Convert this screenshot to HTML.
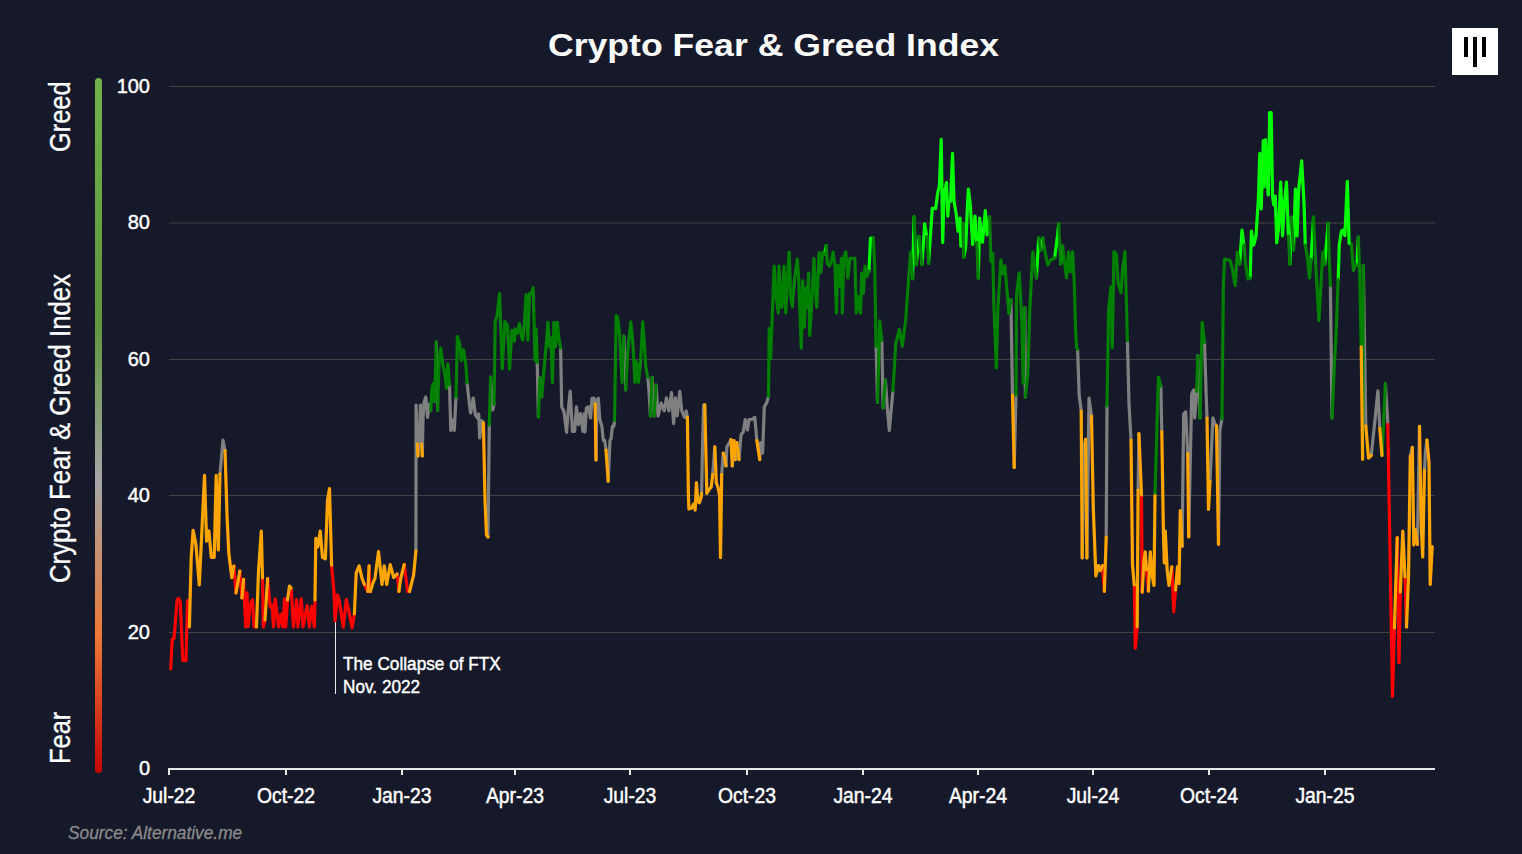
<!DOCTYPE html>
<html><head><meta charset="utf-8">
<style>
html,body{margin:0;padding:0;}
body{width:1522px;height:854px;background:#16192a;overflow:hidden;position:relative;font-family:"Liberation Sans",sans-serif;color:#fff;}
.abs{position:absolute;white-space:nowrap;}
.yl{right:1372px;font-size:20px;line-height:20px;text-align:right;-webkit-text-stroke:0.45px #fff;transform-origin:100% 50%;transform:scaleX(1.0);}
.xl{top:783.5px;font-size:22.5px;line-height:24px;-webkit-text-stroke:0.5px #fff;transform:translateX(-50%) scaleX(0.86);}
.rot{left:45px;font-size:30px;line-height:30px;-webkit-text-stroke:0.35px #fff;transform-origin:0 0;transform:rotate(-90deg) scaleX(0.847);}
</style></head><body>
<svg class="abs" style="left:0;top:0" width="1522" height="854" viewBox="0 0 1522 854">
<defs>
<linearGradient id="gb" x1="0" y1="0" x2="0" y2="1">
<stop offset="0" stop-color="#72b24a"/>
<stop offset="0.35" stop-color="#5e963c"/>
<stop offset="0.58" stop-color="#a6a6a6"/>
<stop offset="0.8" stop-color="#ec7a38"/>
<stop offset="1" stop-color="#c40606"/>
</linearGradient>
</defs>
<g stroke="#434343" stroke-width="1">
<line x1="169" y1="86.5" x2="1435" y2="86.5"/>
<line x1="169" y1="223" x2="1435" y2="223"/>
<line x1="169" y1="359.5" x2="1435" y2="359.5"/>
<line x1="169" y1="495.5" x2="1435" y2="495.5"/>
<line x1="169" y1="632.5" x2="1435" y2="632.5"/>
</g>
<rect x="95" y="78" width="7" height="695" rx="3.5" fill="url(#gb)"/>
<g fill="#e8e8e8">
<rect x="168" y="768" width="1267" height="2"/>
<rect x="168" y="768" width="2" height="7"/>
<rect x="285" y="768" width="2" height="7"/>
<rect x="401" y="768" width="2" height="7"/>
<rect x="514" y="768" width="2" height="7"/>
<rect x="629" y="768" width="2" height="7"/>
<rect x="746" y="768" width="2" height="7"/>
<rect x="862" y="768" width="2" height="7"/>
<rect x="977" y="768" width="2" height="7"/>
<rect x="1092" y="768" width="2" height="7"/>
<rect x="1208" y="768" width="2" height="7"/>
<rect x="1324" y="768" width="2" height="7"/>
</g>
<rect x="139" y="782" width="1221" height="1" fill="#121320"/>
<line x1="335.5" y1="622" x2="335.5" y2="694" stroke="#e8e8e8" stroke-width="1"/>
<rect x="1452" y="28" width="46" height="47" fill="#fff"/>
<g fill="#000"><rect x="1464" y="37" width="4" height="20"/><rect x="1473" y="37" width="4" height="30"/><rect x="1482" y="37" width="4" height="20"/></g>
<g id="line" fill="none" stroke-width="3.2" stroke-linejoin="round" stroke-linecap="round"><path stroke="#808080" d="M220.0,473.9 L223.0,440.2 L225.0,450.5"/>
<path stroke="#808080" d="M415.9,551.1 L416.1,405.0 L417.3,444.0"/>
<path stroke="#808080" d="M418.0,456.0 L419.5,430.0 L420.5,405.0 L421.5,444.0"/>
<path stroke="#808080" d="M422.3,456.0 L423.0,420.0 L424.0,402.4 L425.8,397.0 L427.6,417.3 L429.3,404.2 L430.7,410.3"/>
<path stroke="#808080" d="M433.2,384.0 L434.6,401.5"/>
<path stroke="#808080" d="M436.3,341.8 L437.6,410.3"/>
<path stroke="#808080" d="M449.5,384.9 L450.8,430.5 L452.5,420.0 L454.3,430.5 L456.0,397.1"/>
<path stroke="#808080" d="M467.1,383.0 L468.8,398.9 L470.6,413.0 L473.2,398.0 L475.3,414.7 L477.6,418.2 L478.7,414.0 L479.7,438.0 L481.9,420.7 L483.4,422.8"/>
<path stroke="#808080" d="M488.0,537.0 L489.3,425.0"/>
<path stroke="#808080" d="M490.6,377.0 L492.7,410.0 L494.0,404.2"/>
<path stroke="#808080" d="M537.2,362.3 L538.4,416.8"/>
<path stroke="#808080" d="M539.9,377.9 L541.7,396.8"/>
<path stroke="#808080" d="M560.6,347.9 L561.7,406.8 L563.9,411.3 L566.6,432.4 L568.4,409.0 L570.2,391.2 L572.4,431.3 L574.6,431.3 L576.4,406.8 L578.4,424.6 L580.6,413.5 L582.9,431.3 L584.4,413.5 L585.0,432.0 L586.4,408.0 L588.5,406.7 L590.6,418.0 L592.0,398.3 L594.1,398.3 L595.1,404.0"/>
<path stroke="#808080" d="M596.0,460.0 L597.0,401.0 L598.3,398.3 L599.8,419.3 L601.9,426.4 L603.3,440.4 L604.7,440.4 L606.0,450.0"/>
<path stroke="#808080" d="M608.2,481.2 L610.0,440.4 L611.0,439.0 L612.4,426.4 L613.8,426.4 L614.5,420.7"/>
<path stroke="#808080" d="M623.9,336.0 L625.7,390.0"/>
<path stroke="#808080" d="M647.8,377.3 L648.9,390.0 L650.4,416.0"/>
<path stroke="#808080" d="M652.2,377.3 L654.1,416.0"/>
<path stroke="#808080" d="M656.1,385.0 L658.1,416.0 L661.2,403.0 L664.3,410.8 L666.4,397.9 L668.9,410.8 L671.5,392.7 L673.6,423.6 L675.4,397.9 L677.2,415.9 L679.8,391.4 L681.8,410.8 L684.6,417.4 L686.3,411.0 L687.4,417.4"/>
<path stroke="#808080" d="M701.6,493.3 L702.6,442.7 L703.6,404.8 L704.8,404.8"/>
<path stroke="#808080" d="M712.7,474.3 L714.8,446.9"/>
<path stroke="#808080" d="M721.7,474.3 L723.2,453.2"/>
<path stroke="#808080" d="M726.0,465.9 L726.8,446.9 L729.5,442.7 L731.0,439.5"/>
<path stroke="#808080" d="M732.3,465.9 L734.0,440.6"/>
<path stroke="#808080" d="M735.2,459.6 L736.9,442.7"/>
<path stroke="#808080" d="M739.0,459.6 L741.1,434.3 L743.2,432.2 L745.3,419.5 L747.4,430.0 L749.1,419.5 L751.7,419.5 L754.8,417.4 L756.9,440.6"/>
<path stroke="#808080" d="M759.7,459.6 L760.5,442.7 L762.6,453.2 L764.3,406.9 L766.8,402.6 L768.5,396.3"/>
<path stroke="#808080" d="M876.1,346.2 L877.5,402.4"/>
<path stroke="#808080" d="M881.8,340.5 L883.1,408.0"/>
<path stroke="#808080" d="M885.4,380.0 L887.3,408.0 L889.3,430.5 L892.9,391.0"/>
<path stroke="#808080" d="M1010.9,299.7 L1012.5,395.0"/>
<path stroke="#808080" d="M1014.2,467.5 L1016.0,395.0"/>
<path stroke="#808080" d="M1024.8,307.6 L1025.4,397.0"/>
<path stroke="#808080" d="M1077.6,349.4 L1079.2,395.5 L1081.2,411.0"/>
<path stroke="#808080" d="M1082.2,557.8 L1084.3,444.4 L1085.6,439.3"/>
<path stroke="#808080" d="M1086.9,557.8 L1089.0,398.0 L1091.5,416.0"/>
<path stroke="#808080" d="M1106.2,537.2 L1107.0,405.8"/>
<path stroke="#808080" d="M1127.4,340.7 L1129.0,403.8 L1131.0,440.0"/>
<path stroke="#808080" d="M1138.1,490.0 L1138.9,433.7"/>
<path stroke="#808080" d="M1160.8,386.0 L1161.8,431.7"/>
<path stroke="#808080" d="M1182.1,546.2 L1183.7,413.8 L1185.7,411.8 L1187.7,453.6"/>
<path stroke="#808080" d="M1188.7,536.8 L1191.7,393.9 L1193.7,389.9 L1194.7,417.8 L1196.7,391.3"/>
<path stroke="#808080" d="M1197.8,355.7 L1200.0,418.0"/>
<path stroke="#808080" d="M1204.5,342.3 L1206.0,390.0 L1207.0,418.0"/>
<path stroke="#808080" d="M1210.0,481.6 L1212.9,417.9 L1214.9,423.8 L1216.5,425.8"/>
<path stroke="#808080" d="M1218.5,544.3 L1219.9,429.8 L1221.9,418.9"/>
<path stroke="#808080" d="M1330.4,285.7 L1332.0,418.1"/>
<path stroke="#808080" d="M1363.3,265.6 L1365.8,425.8"/>
<path stroke="#808080" d="M1371.2,455.5 L1375.2,417.8 L1377.9,390.8 L1379.8,428.5"/>
<path stroke="#808080" d="M1385.4,383.6 L1387.8,424.4"/>
<path stroke="#808080" d="M1410.3,456.0 L1412.3,447.4"/>
<path stroke="#808080" d="M1417.4,544.4 L1419.5,426.3"/>
<path stroke="#808080" d="M1424.5,470.0 L1425.5,452.0 L1426.9,440.0"/>
<path stroke="#00ff00" d="M824.7,254.0 L826.1,245.6"/>
<path stroke="#00ff00" d="M869.0,271.0 L870.5,238.0 L873.3,238.0"/>
<path stroke="#00ff00" d="M912.6,278.7 L914.0,216.9"/>
<path stroke="#00ff00" d="M916.3,264.6 L919.1,236.5"/>
<path stroke="#00ff00" d="M922.0,264.6 L924.7,223.9 L926.7,236.5"/>
<path stroke="#00ff00" d="M928.6,263.2 L932.3,208.4 L935.6,208.7 L937.9,191.8 L939.4,186.0 L941.2,139.4 L942.7,242.4 L944.0,195.6 L946.5,182.5 L947.8,216.2 L949.1,201.2 L950.6,201.2 L952.5,153.4 L954.0,201.2 L956.2,214.3 L958.1,231.2 L960.0,218.0 L960.9,246.2 L962.8,223.7"/>
<path stroke="#00ff00" d="M963.7,257.4 L965.6,248.0 L967.5,205.0 L968.4,189.0 L970.3,205.0 L972.7,244.3 L975.0,216.2 L976.8,242.4"/>
<path stroke="#00ff00" d="M978.3,278.0 L979.6,218.0 L981.0,229.3 L982.5,242.4 L985.3,210.6 L987.1,234.9 L989.6,217.1"/>
<path stroke="#00ff00" d="M1036.4,277.8 L1038.7,238.0"/>
<path stroke="#00ff00" d="M1040.7,250.0 L1042.7,238.0"/>
<path stroke="#00ff00" d="M1054.7,257.9 L1057.5,236.0 L1058.7,224.0"/>
<path stroke="#00ff00" d="M1060.6,263.8 L1062.6,246.0"/>
<path stroke="#00ff00" d="M1239.7,264.0 L1242.0,230.0 L1243.9,245.2"/>
<path stroke="#00ff00" d="M1250.2,278.0 L1251.4,231.1 L1253.7,245.2 L1256.0,236.0 L1258.4,198.4 L1259.8,153.4 L1261.2,208.9 L1263.3,140.7 L1264.2,187.0 L1265.5,139.5 L1267.0,180.0 L1268.3,195.0 L1269.7,112.6 L1271.2,112.6 L1272.5,195.5 L1273.8,205.0 L1275.3,196.0 L1276.7,242.9 L1278.5,229.0 L1280.7,182.0 L1282.5,235.8 L1284.3,205.0 L1286.5,182.0 L1288.4,235.8"/>
<path stroke="#00ff00" d="M1290.0,264.0 L1291.2,217.1"/>
<path stroke="#00ff00" d="M1293.5,249.9 L1295.4,189.0 L1297.1,235.8 L1298.7,189.0 L1301.7,160.9 L1304.1,205.4 L1305.3,245.2"/>
<path stroke="#00ff00" d="M1311.1,259.3 L1313.5,217.1"/>
<path stroke="#00ff00" d="M1324.8,264.4 L1328.1,223.3"/>
<path stroke="#00ff00" d="M1338.2,279.6 L1339.3,244.6 L1341.5,230.9 L1343.0,230.0 L1344.9,235.5 L1347.3,181.4 L1349.1,243.1 L1351.4,244.6"/>
<path stroke="#00ff00" d="M1357.0,265.3 L1358.3,237.0"/>
<path stroke="#008000" d="M430.7,410.3 L432.0,388.4 L433.2,384.0"/>
<path stroke="#008000" d="M434.6,401.5 L436.3,341.8"/>
<path stroke="#008000" d="M437.6,410.3 L439.0,362.0 L440.7,348.0 L442.8,363.8 L445.1,376.0 L446.5,388.4 L447.8,363.8 L449.5,384.9"/>
<path stroke="#008000" d="M456.0,397.1 L457.4,336.5 L459.5,342.7 L461.3,360.3 L463.6,349.7 L465.9,365.5 L467.1,383.0"/>
<path stroke="#008000" d="M489.3,425.0 L490.6,377.0"/>
<path stroke="#008000" d="M494.0,404.2 L495.2,321.6 L497.0,316.3 L499.6,293.5 L502.2,369.0 L504.9,321.6 L507.5,325.1 L509.6,369.0 L511.9,330.4 L514.5,341.0 L515.0,328.9 L517.2,333.4 L519.4,323.4 L521.2,335.6 L522.8,340.1 L524.3,324.5 L526.1,294.5 L527.9,340.1 L529.5,293.3 L531.7,293.3 L533.2,287.8 L535.0,360.1 L536.1,328.9 L537.2,362.3"/>
<path stroke="#008000" d="M538.4,416.8 L539.9,377.9"/>
<path stroke="#008000" d="M541.7,396.8 L543.5,375.7 L546.1,346.7 L547.9,322.3 L549.5,346.7 L551.0,337.8 L552.4,382.3 L553.9,322.3 L555.5,346.7 L557.3,322.3 L558.8,337.8 L560.6,347.9"/>
<path stroke="#008000" d="M614.5,420.7 L616.2,315.6 L617.8,317.8 L619.6,335.6 L622.1,382.4 L623.9,336.0"/>
<path stroke="#008000" d="M625.7,390.0 L627.7,351.5 L630.8,321.9 L632.9,343.8 L634.9,382.4 L636.7,361.8 L638.5,382.4 L640.6,361.8 L642.7,321.9 L644.5,346.4 L645.8,367.0 L647.8,377.3"/>
<path stroke="#008000" d="M650.4,416.0 L652.2,377.3"/>
<path stroke="#008000" d="M654.1,416.0 L656.1,385.0"/>
<path stroke="#008000" d="M768.5,396.3 L769.2,328.5 L770.6,359.0 L774.1,266.0 L776.2,296.2 L778.3,313.0 L779.0,266.0 L780.5,296.2 L781.9,307.4 L784.0,266.0 L785.8,313.0 L787.2,282.2 L789.2,252.0 L790.6,296.2 L792.4,306.7 L794.5,279.3 L797.3,259.0 L798.7,279.3 L801.3,348.2 L802.7,280.7 L804.3,327.1 L805.7,287.8 L807.2,307.4 L808.6,273.0 L809.7,335.5 L812.1,297.6 L813.9,258.3 L815.3,287.8 L816.7,307.4 L818.4,268.1 L819.1,252.6 L820.9,272.3 L822.6,252.6 L824.7,254.0"/>
<path stroke="#008000" d="M826.1,245.6 L827.5,263.9 L829.6,266.0 L831.7,259.7 L833.1,252.0 L835.0,266.7 L836.4,313.0 L837.8,265.3 L839.5,286.4 L841.6,258.3 L842.3,313.0 L843.7,258.3 L845.8,252.0 L847.9,278.0 L850.0,258.3 L852.8,258.3 L854.9,258.3 L856.3,313.0 L857.7,296.2 L860.5,313.0 L861.7,273.0 L863.4,293.4 L865.0,266.0 L866.9,276.5 L869.0,271.0"/>
<path stroke="#008000" d="M873.3,238.0 L874.7,267.0 L876.1,346.2"/>
<path stroke="#008000" d="M877.5,402.4 L879.7,320.9 L881.8,340.5"/>
<path stroke="#008000" d="M883.1,408.0 L885.4,380.0"/>
<path stroke="#008000" d="M892.9,391.0 L895.8,343.3 L899.4,329.3 L902.2,346.2 L905.6,321.0 L908.4,281.5 L910.6,252.0 L912.6,278.7"/>
<path stroke="#008000" d="M914.0,216.9 L916.3,264.6"/>
<path stroke="#008000" d="M919.1,236.5 L922.0,264.6"/>
<path stroke="#008000" d="M926.7,236.5 L928.6,263.2"/>
<path stroke="#008000" d="M962.8,223.7 L963.7,257.4"/>
<path stroke="#008000" d="M976.8,242.4 L978.3,278.0"/>
<path stroke="#008000" d="M989.6,217.1 L990.9,261.1 L992.8,253.7 L994.0,309.6 L996.4,368.0 L997.9,307.6 L1000.9,259.9 L1002.9,273.8 L1004.9,265.8 L1006.9,290.0 L1008.9,313.6 L1010.9,299.7"/>
<path stroke="#008000" d="M1016.0,395.0 L1016.5,295.7 L1019.2,272.8 L1021.8,319.6 L1023.2,383.3 L1024.8,307.6"/>
<path stroke="#008000" d="M1025.4,397.0 L1027.8,373.3 L1029.8,309.6 L1032.8,251.9 L1036.4,277.8"/>
<path stroke="#008000" d="M1038.7,238.0 L1040.7,250.0"/>
<path stroke="#008000" d="M1042.7,238.0 L1044.7,250.0 L1047.7,264.8 L1050.7,260.0 L1054.7,257.9"/>
<path stroke="#008000" d="M1058.7,224.0 L1060.6,263.8"/>
<path stroke="#008000" d="M1062.6,246.0 L1064.2,260.0 L1066.6,277.8 L1068.6,251.9 L1070.6,271.8 L1072.6,251.9 L1074.2,282.0 L1075.6,329.5 L1076.6,347.5 L1077.6,349.4"/>
<path stroke="#008000" d="M1107.0,405.8 L1108.6,310.0 L1111.0,286.8 L1112.2,347.7 L1114.0,251.7 L1116.3,254.0 L1118.0,282.2 L1121.0,292.7 L1122.7,268.0 L1125.0,251.7 L1127.4,340.7"/>
<path stroke="#008000" d="M1155.0,495.6 L1158.4,377.0 L1160.8,386.0"/>
<path stroke="#008000" d="M1196.7,391.3 L1197.8,355.7"/>
<path stroke="#008000" d="M1200.0,418.0 L1202.2,322.3 L1204.5,342.3"/>
<path stroke="#008000" d="M1221.9,418.9 L1223.4,284.5 L1224.5,259.0 L1227.5,260.0 L1230.0,260.0 L1232.5,270.0 L1235.2,285.6 L1237.3,252.2 L1239.7,264.0"/>
<path stroke="#008000" d="M1243.9,245.2 L1245.5,264.0 L1247.9,279.2 L1250.2,278.0"/>
<path stroke="#008000" d="M1288.4,235.8 L1290.0,264.0"/>
<path stroke="#008000" d="M1291.2,217.1 L1293.5,249.9"/>
<path stroke="#008000" d="M1305.3,245.2 L1307.6,259.3 L1309.5,278.0 L1311.1,259.3"/>
<path stroke="#008000" d="M1313.5,217.1 L1315.7,264.4 L1318.9,320.7 L1322.8,252.2 L1324.8,264.4"/>
<path stroke="#008000" d="M1328.1,223.3 L1329.4,261.3 L1330.4,285.7"/>
<path stroke="#008000" d="M1332.0,418.1 L1334.0,372.0 L1335.9,337.4 L1338.2,279.6"/>
<path stroke="#008000" d="M1351.4,244.6 L1353.4,270.5 L1356.0,264.4 L1357.0,265.3"/>
<path stroke="#008000" d="M1358.3,237.0 L1359.8,276.6 L1361.2,346.8"/>
<path stroke="#008000" d="M1362.6,459.2 L1363.3,265.6"/>
<path stroke="#008000" d="M1382.0,455.5 L1385.4,383.6"/>
<path stroke="#ff0000" d="M170.7,669.0 L172.2,639.0 L174.0,638.5 L177.2,599.5 L178.8,598.5 L180.3,602.0 L182.8,660.5 L186.0,660.5 L187.5,600.6 L189.4,626.8"/>
<path stroke="#ff0000" d="M233.9,566.0 L236.0,592.9"/>
<path stroke="#ff0000" d="M239.8,571.0 L241.9,598.0"/>
<path stroke="#ff0000" d="M243.6,579.4 L245.7,627.0 L247.0,592.9 L248.2,626.6 L250.0,605.0 L252.5,599.6 L254.1,627.0 L256.5,627.0"/>
<path stroke="#ff0000" d="M262.5,578.0 L263.4,627.0 L265.0,620.0"/>
<path stroke="#ff0000" d="M267.6,578.5 L270.2,607.2 L272.0,605.0 L273.5,627.0 L275.2,598.8 L278.6,627.0 L281.0,614.0 L283.0,627.0 L284.5,598.8 L285.7,627.0 L287.5,600.0"/>
<path stroke="#ff0000" d="M291.2,588.0 L293.5,627.0 L296.6,599.6 L297.9,627.0 L301.3,598.8 L303.0,627.0 L307.2,605.5 L309.3,627.0 L311.8,606.4 L314.4,627.0 L315.0,600.0"/>
<path stroke="#ff0000" d="M331.6,565.2 L334.0,592.7 L335.1,620.8 L337.5,595.0 L339.2,599.7 L341.0,612.0 L343.3,627.2 L346.3,599.7 L349.2,612.6 L352.1,627.8 L354.4,613.8"/>
<path stroke="#ff0000" d="M364.4,584.5 L367.9,591.5"/>
<path stroke="#ff0000" d="M369.1,565.8 L370.3,591.5"/>
<path stroke="#ff0000" d="M397.2,574.0 L398.9,591.5"/>
<path stroke="#ff0000" d="M404.2,564.6 L407.7,591.5 L409.5,591.5"/>
<path stroke="#ff0000" d="M1102.4,565.6 L1104.4,591.3"/>
<path stroke="#ff0000" d="M1134.3,585.0 L1135.3,648.3 L1137.2,626.8"/>
<path stroke="#ff0000" d="M1141.5,495.0 L1142.2,592.1"/>
<path stroke="#ff0000" d="M1146.5,570.0 L1148.4,591.2"/>
<path stroke="#ff0000" d="M1171.8,566.8 L1173.7,611.8 L1175.5,590.0"/>
<path stroke="#ff0000" d="M1387.8,424.4 L1392.5,696.4 L1394.4,628.0"/>
<path stroke="#ff0000" d="M1397.2,537.7 L1399.0,662.7 L1400.3,592.0"/>
<path stroke="#ff0000" d="M1405.0,577.0 L1406.5,627.0"/>
<path stroke="#ffa500" d="M189.4,626.8 L191.2,557.5 L193.1,530.3 L195.9,544.4 L199.3,585.0 L202.5,517.8 L204.5,475.4 L206.6,541.2 L208.9,531.0 L211.3,557.3 L214.2,557.3 L216.2,475.4 L218.3,550.0 L220.0,473.9"/>
<path stroke="#ffa500" d="M225.0,450.5 L227.1,517.8 L228.8,553.0 L231.8,577.7 L233.9,566.0"/>
<path stroke="#ffa500" d="M236.0,592.9 L239.8,571.0"/>
<path stroke="#ffa500" d="M241.9,598.0 L243.6,579.4"/>
<path stroke="#ffa500" d="M256.5,627.0 L258.5,571.0 L261.3,531.0 L262.5,578.0"/>
<path stroke="#ffa500" d="M265.0,620.0 L267.6,578.5"/>
<path stroke="#ffa500" d="M287.5,600.0 L289.5,586.1 L291.2,588.0"/>
<path stroke="#ffa500" d="M315.0,600.0 L315.8,538.3 L317.8,547.0 L320.2,531.0 L322.5,557.3 L325.4,558.8 L327.5,500.3 L329.5,488.5 L331.6,565.2"/>
<path stroke="#ffa500" d="M354.4,613.8 L356.2,572.8 L359.1,565.8 L362.1,578.6 L364.4,584.5"/>
<path stroke="#ffa500" d="M367.9,591.5 L369.1,565.8"/>
<path stroke="#ffa500" d="M370.3,591.5 L373.2,582.2 L374.9,578.6 L378.5,551.7 L382.0,584.5 L384.3,565.8 L386.7,584.5 L390.2,564.6 L393.7,577.5 L397.2,574.0"/>
<path stroke="#ffa500" d="M398.9,591.5 L400.7,578.6 L404.2,564.6"/>
<path stroke="#ffa500" d="M409.5,591.5 L413.6,575.1 L415.9,551.1"/>
<path stroke="#ffa500" d="M417.3,444.0 L418.0,456.0"/>
<path stroke="#ffa500" d="M421.5,444.0 L422.3,456.0"/>
<path stroke="#ffa500" d="M483.4,422.8 L485.0,500.0 L486.5,535.0 L488.0,537.0"/>
<path stroke="#ffa500" d="M595.1,404.0 L596.0,460.0"/>
<path stroke="#ffa500" d="M606.0,450.0 L608.2,481.2"/>
<path stroke="#ffa500" d="M687.4,417.4 L688.4,495.4 L688.9,509.0 L691.6,508.0 L693.7,503.8 L695.2,510.0 L696.4,482.7 L697.9,501.7 L699.4,502.8 L701.1,497.5 L701.6,493.3"/>
<path stroke="#ffa500" d="M704.8,404.8 L706.8,493.3 L709.5,489.0 L711.2,487.0 L712.7,474.3"/>
<path stroke="#ffa500" d="M714.8,446.9 L716.3,482.7 L717.9,487.0 L719.6,495.4 L720.5,557.6 L721.7,474.3"/>
<path stroke="#ffa500" d="M723.2,453.2 L724.7,457.5 L726.0,465.9"/>
<path stroke="#ffa500" d="M731.0,439.5 L732.3,465.9"/>
<path stroke="#ffa500" d="M734.0,440.6 L735.2,459.6"/>
<path stroke="#ffa500" d="M736.9,442.7 L739.0,459.6"/>
<path stroke="#ffa500" d="M756.9,440.6 L759.7,459.6"/>
<path stroke="#ffa500" d="M1012.5,395.0 L1014.2,467.5"/>
<path stroke="#ffa500" d="M1081.2,411.0 L1082.2,557.8"/>
<path stroke="#ffa500" d="M1085.6,439.3 L1086.9,557.8"/>
<path stroke="#ffa500" d="M1091.5,416.0 L1093.3,508.9 L1095.9,575.9 L1098.5,565.6 L1100.3,570.7 L1102.4,565.6"/>
<path stroke="#ffa500" d="M1104.4,591.3 L1106.2,537.2"/>
<path stroke="#ffa500" d="M1131.0,440.0 L1132.5,565.0 L1134.3,585.0"/>
<path stroke="#ffa500" d="M1137.2,626.8 L1138.1,490.0"/>
<path stroke="#ffa500" d="M1138.9,433.7 L1141.5,495.0"/>
<path stroke="#ffa500" d="M1142.2,592.1 L1144.0,560.0 L1145.2,551.8 L1146.5,570.0"/>
<path stroke="#ffa500" d="M1148.4,591.2 L1150.3,551.8 L1152.0,575.0 L1154.0,585.5 L1155.0,495.6"/>
<path stroke="#ffa500" d="M1161.8,431.7 L1163.4,531.0 L1164.3,563.0 L1165.3,531.2 L1167.2,570.6 L1169.0,585.5 L1171.8,566.8"/>
<path stroke="#ffa500" d="M1175.5,590.0 L1177.5,566.8 L1179.0,583.7 L1180.3,510.6 L1182.1,546.2"/>
<path stroke="#ffa500" d="M1187.7,453.6 L1188.7,536.8"/>
<path stroke="#ffa500" d="M1207.0,418.0 L1208.5,509.4 L1210.0,481.6"/>
<path stroke="#ffa500" d="M1216.5,425.8 L1218.5,544.3"/>
<path stroke="#ffa500" d="M1361.2,346.8 L1362.6,459.2"/>
<path stroke="#ffa500" d="M1365.8,425.8 L1368.5,458.2 L1371.2,455.5"/>
<path stroke="#ffa500" d="M1379.8,428.5 L1382.0,455.5"/>
<path stroke="#ffa500" d="M1394.4,628.0 L1397.2,537.7"/>
<path stroke="#ffa500" d="M1400.3,592.0 L1402.8,531.1 L1405.0,577.0"/>
<path stroke="#ffa500" d="M1406.5,627.0 L1408.5,577.0 L1410.3,456.0"/>
<path stroke="#ffa500" d="M1412.3,447.4 L1413.8,545.0 L1415.3,529.6 L1417.4,544.4"/>
<path stroke="#ffa500" d="M1419.5,426.3 L1421.2,525.0 L1422.7,557.0 L1424.5,470.0"/>
<path stroke="#ffa500" d="M1426.9,440.0 L1429.0,462.2 L1430.2,584.4 L1432.2,546.5"/></g>
</svg>

<div class="abs" id="title" style="left:548px;top:27px;font-size:31.5px;font-weight:bold;transform-origin:0 0;transform:scaleX(1.13);">Crypto Fear &amp; Greed Index</div>
<div class="abs yl" style="top:75.5px">100</div>
<div class="abs yl" style="top:212px">80</div>
<div class="abs yl" style="top:348.5px">60</div>
<div class="abs yl" style="top:485px">40</div>
<div class="abs yl" style="top:621.5px">20</div>
<div class="abs yl" style="top:758px">0</div>
<div class="abs xl" style="left:169px">Jul-22</div>
<div class="abs xl" style="left:286px">Oct-22</div>
<div class="abs xl" style="left:402px">Jan-23</div>
<div class="abs xl" style="left:515px">Apr-23</div>
<div class="abs xl" style="left:630px">Jul-23</div>
<div class="abs xl" style="left:747px">Oct-23</div>
<div class="abs xl" style="left:863px">Jan-24</div>
<div class="abs xl" style="left:978px">Apr-24</div>
<div class="abs xl" style="left:1093px">Jul-24</div>
<div class="abs xl" style="left:1209px">Oct-24</div>
<div class="abs xl" style="left:1325px">Jan-25</div>
<div class="abs rot" style="top:152px">Greed</div>
<div class="abs rot" style="top:583px;transform:rotate(-90deg) scaleX(0.858)">Crypto Fear &amp; Greed Index</div>
<div class="abs rot" style="top:764px">Fear</div>
<div class="abs" id="ann" style="left:342.5px;top:653px;font-size:18.5px;line-height:22.5px;-webkit-text-stroke:0.45px #fff;transform-origin:0 0;transform:scaleX(0.93);">The Collapse of FTX<br>Nov. 2022</div>
<div class="abs" id="src" style="left:68px;top:823px;-webkit-text-stroke:0.3px #8a8a8a;transform-origin:0 0;transform:scaleX(0.96);font-size:18px;font-style:italic;color:#8a8a8a;">Source: Alternative.me</div>
</body></html>
